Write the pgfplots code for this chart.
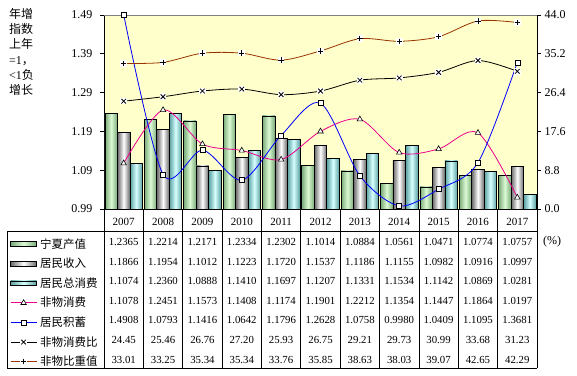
\documentclass[border=0pt]{standalone}
\usepackage{pgfplots}
\pgfplotsset{compat=1.18}
\usepackage{pgfplotstable}
\usepackage{fontspec}
\setmainfont{Liberation Serif}
\newfontfamily\cjk{Noto Sans CJK SC}

\definecolor{bgy}{RGB}{255,255,204}
\definecolor{gE}{RGB}{120,170,120}
\definecolor{gM}{RGB}{220,250,212}
\definecolor{aE}{RGB}{105,105,105}
\definecolor{aM}{RGB}{255,255,255}
\definecolor{cE}{RGB}{90,160,160}
\definecolor{cM}{RGB}{215,255,255}
\definecolor{brn}{RGB}{153,51,0}

\pgfdeclareplotmark{xw}{%
  \pgfpathrectangle{\pgfpoint{-3.3pt}{-3.3pt}}{\pgfpoint{6.6pt}{6.6pt}}%
  \pgfsetfillcolor{white}\pgfusepathqfill
  \pgfsetstrokecolor{black}\pgfsetlinewidth{0.8pt}%
  \pgfpathmoveto{\pgfpoint{-2.3pt}{-2.3pt}}\pgfpathlineto{\pgfpoint{2.3pt}{2.3pt}}%
  \pgfpathmoveto{\pgfpoint{-2.3pt}{2.3pt}}\pgfpathlineto{\pgfpoint{2.3pt}{-2.3pt}}%
  \pgfusepathqstroke}
\pgfdeclareplotmark{pw}{%
  \pgfpathrectangle{\pgfpoint{-3.3pt}{-3.3pt}}{\pgfpoint{6.6pt}{6.6pt}}%
  \pgfsetfillcolor{white}\pgfusepathqfill
  \pgfsetstrokecolor{black}\pgfsetlinewidth{0.8pt}%
  \pgfpathmoveto{\pgfpoint{-2.7pt}{0pt}}\pgfpathlineto{\pgfpoint{2.7pt}{0pt}}%
  \pgfpathmoveto{\pgfpoint{0pt}{2.7pt}}\pgfpathlineto{\pgfpoint{0pt}{-2.7pt}}%
  \pgfusepathqstroke}

\pgfplotstableread{
x year gdp inc con nm sav ratio share
0 2007 1.2365 1.1866 1.1074 1.1078 1.4908 24.45 33.01
1 2008 1.2214 1.1954 1.2360 1.2451 1.0793 25.46 33.25
2 2009 1.2171 1.1012 1.0888 1.1573 1.1416 26.76 35.34
3 2010 1.2334 1.1223 1.1410 1.1408 1.0642 27.20 35.34
4 2011 1.2302 1.1720 1.1697 1.1174 1.1796 25.93 33.76
5 2012 1.1014 1.1537 1.1207 1.1901 1.2628 26.75 35.85
6 2013 1.0884 1.1186 1.1331 1.2212 1.0758 29.21 38.63
7 2014 1.0561 1.1155 1.1534 1.1354 0.9980 29.73 38.03
8 2015 1.0471 1.0982 1.1142 1.1447 1.0409 30.99 39.07
9 2016 1.0774 1.0916 1.0869 1.1864 1.1095 33.68 42.65
10 2017 1.0757 1.0997 1.0281 1.0197 1.3681 31.23 42.29
}\datatable

\pgfplotsset{
  lineleg/.style={legend image code/.code={\draw[mark repeat=2,mark phase=2,##1] plot coordinates {(0pt,0pt) (13pt,0pt) (26pt,0pt)};}},
  barleg/.style 2 args={legend image code/.code={\draw[draw=black, line width=0.6pt, left color=#1, right color=#1, middle color=#2] (0pt,-2.4pt) rectangle (26pt,2.4pt);}},
  frame/.style={at={(104pt,166pt)}, anchor=south west,
    scale only axis, width=433pt, height=194pt, xmin=-0.5, xmax=10.5},
}

\begin{document}
\begin{tikzpicture}
\useasboundingbox (0pt,0pt) rectangle (577pt,375pt);
\begin{axis}[
  frame, ymin=0.99, ymax=1.49,
  xtick=\empty,
  ytick={0.99,1.09,1.19,1.29,1.39,1.49},
  axis x line*=bottom, axis y line*=left,
  axis line style={black, line width=0.7pt},
  axis background/.style={fill=bgy},
  ytick align=outside, major tick length=4pt,
  tick style={black, line width=0.7pt},
  /pgf/number format/assume math mode=true,
  yticklabel style={font=\fontsize{12}{14}\selectfont, /pgf/number format/fixed, /pgf/number format/precision=2, /pgf/number format/fixed zerofill, xshift=-4pt},
  legend style={at={(-0.22402,-0.1299)}, anchor=north west, draw=none, fill=none,
    inner xsep=3pt, inner ysep=0pt, row sep=0pt, column sep=3pt,
    font=\cjk\fontsize{11.5}{13}\selectfont,
    nodes={inner sep=0pt, minimum height=19.57pt}},
  legend cell align=left,
]
\pgfplotsinvokeforeach{0,...,10}{
\addplot[ybar, forget plot, bar width=12.5pt, bar shift=-12.5pt, draw=black, line width=0.6pt,
  left color=gE, right color=gE, middle color=gM, restrict x to domain=#1:#1]
  table[x=x, y=gdp]{\datatable};
\addplot[ybar, forget plot, bar width=12.5pt, bar shift=0pt, draw=black, line width=0.6pt,
  left color=aE, right color=aE, middle color=aM, restrict x to domain=#1:#1]
  table[x=x, y=inc]{\datatable};
\addplot[ybar, forget plot, bar width=12.5pt, bar shift=12.5pt, draw=black, line width=0.6pt,
  left color=cE, right color=cE, middle color=cM, restrict x to domain=#1:#1]
  table[x=x, y=con]{\datatable};
}
\addlegendimage{barleg={gE}{gM}}
\addlegendentry{宁夏产值}
\addlegendimage{barleg={aE}{aM}}
\addlegendentry{居民收入}
\addlegendimage{barleg={cE}{cM}}
\addlegendentry{居民总消费}
\addplot[magenta, line width=0.8pt, smooth, mark=triangle*, mark size=3.2pt,
  mark options={fill=white, draw=black, solid, line width=0.6pt}, lineleg]
  table[x=x, y=nm]{\datatable};
\addlegendentry{非物消费}
\addlegendimage{blue, line width=0.8pt, mark=square*, mark size=2.5pt,
  mark options={fill=white, draw=black, solid, line width=0.6pt}, lineleg}
\addlegendentry{居民积蓄}
\addlegendimage{black, line width=0.8pt, mark=xw, lineleg}
\addlegendentry{非物消费比}
\addlegendimage{brn, line width=0.8pt, mark=pw, lineleg}
\addlegendentry{非物比重值}
\draw[gray, line width=0.7pt] (rel axis cs:0,1) -- (rel axis cs:1,1);
\end{axis}
\begin{axis}[frame, ymin=0.99, ymax=1.49, hide axis, clip=false]
\addplot[blue, line width=0.8pt, smooth, mark=square*, mark size=2.5pt,
  mark options={fill=white, draw=black, solid, line width=0.6pt}]
  table[x=x, y=sav]{\datatable};
\end{axis}
\begin{axis}[
  frame, ymin=0, ymax=44,
  axis x line=none, axis y line*=right,
  axis line style={black, line width=0.7pt},
  ytick={0,8.8,17.6,26.4,35.2,44},
  ytick align=outside, major tick length=4pt,
  tick style={black, line width=0.7pt},
  /pgf/number format/assume math mode=true,
  yticklabel style={font=\fontsize{12}{14}\selectfont, /pgf/number format/fixed, /pgf/number format/precision=1, /pgf/number format/fixed zerofill, xshift=0pt},
]
\addplot[black, line width=0.8pt, smooth, mark=xw] table[x=x, y=ratio]{\datatable};
\addplot[brn, line width=0.8pt, smooth, mark=pw] table[x=x, y=share]{\datatable};
\end{axis}
% data table grid
\draw[black, line width=0.7pt] (7pt,144pt) -- (537pt,144pt);
\draw[black, line width=0.7pt] (7pt,7pt) -- (537pt,7pt);
\draw[black, line width=0.7pt] (7pt,144pt) -- (7pt,7pt);
\foreach \k in {0,...,11}{
  \pgfmathsetmacro{\xx}{104+39.3636*\k}
  \draw[black, line width=0.7pt] (\xx pt,166pt) -- (\xx pt,7pt);
}
\foreach \i in {0,...,10}{
  \pgfmathsetmacro{\xx}{104+39.3636*(\i+0.5)}
  \pgfplotstablegetelem{\i}{year}\of\datatable
  \node[anchor=base, inner sep=0pt, font=\fontsize{11}{13}\selectfont] at (\xx pt,150pt) {\pgfplotsretval};
}
\foreach \col [count=\r from 0] in {gdp,inc,con,nm,sav,ratio,share}{
  \foreach \i in {0,...,10}{
    \pgfmathsetmacro{\xx}{104+39.3636*(\i+0.5)}
    \pgfmathsetmacro{\yy}{129.3-19.57*\r}
    \pgfplotstablegetelem{\i}{\col}\of\datatable
    \node[anchor=base, inner sep=0pt, font=\fontsize{10.8}{13}\selectfont] at (\xx pt,\yy pt) {\pgfplotsretval};
  }
}
\node[anchor=north west, inner sep=0pt, align=left, font=\cjk\fontsize{12}{15.3}\selectfont] at (9pt,367pt) {年增\\指数\\上年\\{\rmfamily =1}，\\{\rmfamily <1}负\\增长};
\node[anchor=west, inner sep=0pt, font=\fontsize{12}{14}\selectfont] at (543pt,133.3pt) {(\%)};
\end{tikzpicture}
\end{document}
